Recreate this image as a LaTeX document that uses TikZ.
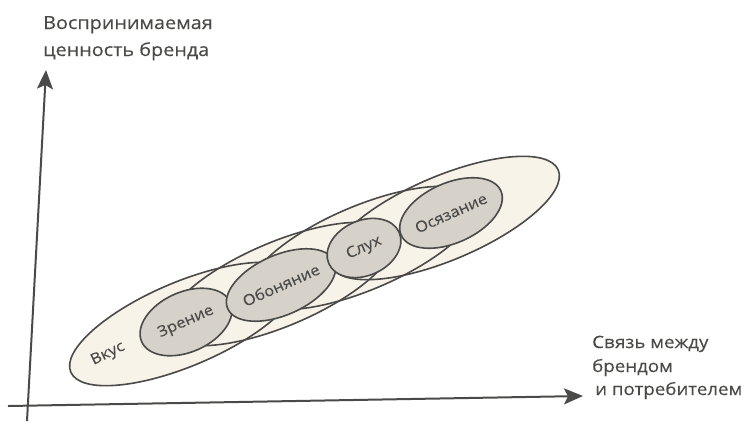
\documentclass[tikz,border=0pt]{standalone}
\usepackage{fontspec}
\setmainfont[FakeStretch=1.1,FakeBold=0.3]{Open Sans}
\usetikzlibrary{arrows.meta,shapes.geometric}
\definecolor{ink}{HTML}{4A4A48}
\definecolor{cream}{HTML}{F7F3E8}
\definecolor{greyfill}{HTML}{D6D1C9}
\definecolor{txt}{HTML}{4A4A48}
\begin{document}
\begin{tikzpicture}[x=1pt,y=-1pt,
  axisline/.style={draw=ink, line width=2pt, -{Stealth[length=19pt,width=16pt,inset=4pt]}},
  bigfill/.style={fill=cream},
  bigline/.style={draw=ink, line width=1.6pt},
  greyell/.style={ellipse, draw=ink, line width=1.6pt, fill=greyfill, inner sep=0pt,
     text=txt, font=\fontsize{15}{15}\selectfont},
  senselabel/.style={text=txt, font=\fontsize{15}{15}\selectfont, inner sep=0pt},
  axislabel/.style={text=txt, inner sep=0pt, anchor=base west}]
\useasboundingbox (0,0) rectangle (749,421);
\fill[white] (0,0) rectangle (749,421);

% large ellipses: fills first, outlines after
\foreach \cx/\cy in {184/324, 280/284, 363/248, 445/218} {
  \fill[bigfill, rotate around={23:(\cx,\cy)}] (\cx,\cy) ellipse [x radius=123, y radius=42];
}
\foreach \cx/\cy in {184/324, 280/284, 363/248, 445/218} {
  \draw[bigline, rotate around={23:(\cx,\cy)}] (\cx,\cy) ellipse [x radius=123, y radius=42];
}

% small grey ellipses with labels
\node[greyell, minimum width=97pt, minimum height=60pt, rotate=24] (zr) at (186,322) {Зрение};
\node[greyell, minimum width=97pt, minimum height=60pt, rotate=24] (ob) at (281,285) {Обоняние};
\node[greyell, minimum width=77pt, minimum height=55pt, rotate=24] (sl) at (364,248) {Слух};
\node[greyell, minimum width=97pt, minimum height=60pt, rotate=24] (os) at (451,213) {Осязание};
\node[senselabel, rotate=26] (vk) at (108,354) {Вкус};

% axes
\coordinate (ybot) at (27,421);
\coordinate (ytip) at (46,70);
\coordinate (xleft) at (8,406);
\coordinate (xtip) at (583,396);
\draw[axisline] (ybot) -- (ytip);
\draw[axisline] (xleft) -- (xtip);

% axis labels
\node[axislabel, font=\fontsize{18}{18}\selectfont] (yl1) at (43,29) {Воспринимаемая};
\node[axislabel, font=\fontsize{18}{18}\selectfont] (yl2) at (43,56) {ценность бренда};
\node[axislabel, font=\fontsize{17}{17}\selectfont] (xl1) at (592,348) {Связь между};
\node[axislabel, font=\fontsize{17}{17}\selectfont] (xl2) at (592,372) {брендом};
\node[axislabel, font=\fontsize{17}{17}\selectfont] (xl3) at (595,395) {и потребителем};
\end{tikzpicture}
\end{document}
